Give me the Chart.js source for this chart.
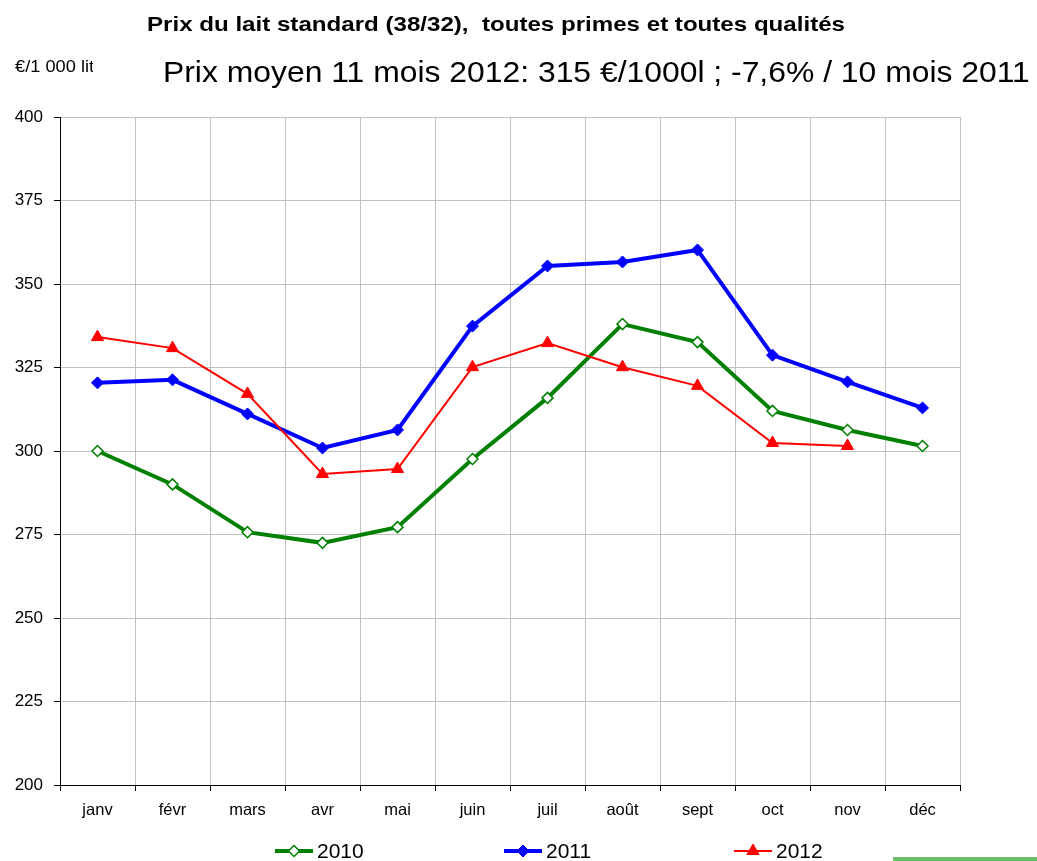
<!DOCTYPE html>
<html><head><meta charset="utf-8">
<script src="https://cdn.jsdelivr.net/npm/chart.js@4.4.0/dist/chart.umd.min.js"></script>
<style>
html,body{margin:0;padding:0;background:#fff;width:1037px;height:861px;overflow:hidden;font-family:"Liberation Sans",Arial,sans-serif;}
#wrap{position:absolute;left:0;top:0;width:1037px;height:861px;}
.t{position:absolute;white-space:pre;color:#000;line-height:1;transform-origin:0 0;}
#title{left:147px;top:13px;font-size:21px;font-weight:bold;}
#sub{left:163px;top:58px;font-size:29px;}
#unitBox{position:absolute;left:14px;top:58px;width:79px;height:20px;overflow:hidden;}
#unit{left:1px;top:1px;font-size:16px;}
.leg{position:absolute;top:838px;height:26px;font-size:21px;display:flex;align-items:center;}
.leg canvas{margin-right:3px;}
#bar{position:absolute;left:893px;top:857px;width:144px;height:4px;background:#6cbf6c;}
</style></head>
<body>
<div id="wrap"><canvas id="c" width="1037" height="861"></canvas></div>
<div class="t" id="title">Prix du lait standard (38/32),  toutes primes et toutes qualités</div>
<div id="unitBox"><div class="t" id="unit">€/1 000 litres</div></div>
<div class="t" id="sub">Prix moyen 11 mois 2012: 315 €/1000l ; -7,6% / 10 mois 2011</div>
<div id="legend"></div>
<div id="bar"></div>
<script>
const categories = ["janv","févr","mars","avr","mai","juin","juil","août","sept","oct","nov","déc"];
const values2010 = [300, 290, 275.7, 272.5, 277.2, 297.6, 315.9, 338, 332.6, 312, 306.3, 301.5];
const values2011 = [320.4, 321.3, 311.1, 300.9, 306.3, 337.4, 355.4, 356.6, 360.2, 328.7, 320.7, 312.9];
const values2012 = [334.1, 330.8, 317.1, 293.1, 294.6, 325.1, 332.3, 325.1, 319.5, 302.4, 301.5];
const seriesLabels = ["2010","2011","2012"];
const yTicks = [200,225,250,275,300,325,350,375,400];

// stretch header texts horizontally to match the reference widths
function fitWidth(id, w){ const el=document.getElementById(id); el.style.transform="scaleX("+(w/el.offsetWidth)+")"; }
fitWidth("title", 698);
fitWidth("sub", 867);
document.getElementById("unit").style.transform="scaleX(1.14)";

const datasets = [
 {label:seriesLabels[0], data:values2010, borderColor:"#008000", borderWidth:4, pointStyle:"rectRot",
  pointRadius:5.5, pointBackgroundColor:"#ffffff", pointBorderColor:"#008000", pointBorderWidth:1.5, order:3, tension:0},
 {label:seriesLabels[1], data:values2011, borderColor:"#0000ff", borderWidth:4, pointStyle:"rectRot",
  pointRadius:6, pointBackgroundColor:"#0000ff", pointBorderColor:"#0000ff", pointBorderWidth:1, order:2, tension:0},
 {label:seriesLabels[2], data:values2012, borderColor:"#ff0000", borderWidth:2, pointStyle:"triangle",
  pointRadius:7, pointBackgroundColor:"#ff0000", pointBorderColor:"#ff0000", pointBorderWidth:1, order:1, tension:0}
];

new Chart(document.getElementById("c"), {
 type:"line",
 data:{labels:categories, datasets:datasets},
 options:{
  responsive:false, animation:false, devicePixelRatio:1,
  layout:{padding:{top:117,left:0,right:77,bottom:36}},
  plugins:{legend:{display:false}, title:{display:false}, tooltip:{enabled:false}},
  scales:{
   x:{type:"category", offset:true,
      grid:{offset:true, color:"#c0c0c0", lineWidth:1, tickColor:"#000", tickLength:6, drawTicks:true},
      border:{color:"#000", width:1},
      ticks:{color:"#000", font:{family:"Liberation Sans, Arial", size:16.5}, padding:10, maxRotation:0},
      afterFit:(s)=>{s.height=40;}},
   y:{min:200, max:400,
      afterBuildTicks:(s)=>{s.ticks=yTicks.map(v=>({value:v}));},
      grid:{color:"#c0c0c0", lineWidth:1, tickColor:"#000", tickLength:6},
      border:{color:"#000", width:1},
      ticks:{color:"#000", font:{family:"Liberation Sans, Arial", size:17}, padding:11},
      afterFit:(s)=>{s.width=60;}}
  }
 }
});

// HTML legend
const legPos = [274, 503, 733];
const lg = document.getElementById("legend");
datasets.forEach((d,i)=>{
 const div=document.createElement("div"); div.className="leg"; div.style.left=legPos[i]+"px";
 const cv=document.createElement("canvas"); cv.width=40; cv.height=20;
 const ctx=cv.getContext("2d");
 ctx.strokeStyle=d.borderColor; ctx.lineWidth=d.borderWidth; ctx.beginPath(); ctx.moveTo(1,10); ctx.lineTo(39,10); ctx.stroke();
 ctx.fillStyle=d.pointBackgroundColor; ctx.strokeStyle=d.pointBorderColor; ctx.lineWidth=d.pointBorderWidth;
 ctx.beginPath();
 if(d.pointStyle==="rectRot"){const r=d.pointRadius; ctx.moveTo(20,10-r);ctx.lineTo(20+r,10);ctx.lineTo(20,10+r);ctx.lineTo(20-r,10);ctx.closePath();}
 else {const r=d.pointRadius; ctx.moveTo(20,10-r);ctx.lineTo(20+r*0.87,10+r*0.5);ctx.lineTo(20-r*0.87,10+r*0.5);ctx.closePath();}
 ctx.fill(); ctx.stroke();
 div.appendChild(cv);
 const sp=document.createElement("span"); sp.textContent=d.label; div.appendChild(sp);
 lg.appendChild(div);
});
</script>
</body></html>
